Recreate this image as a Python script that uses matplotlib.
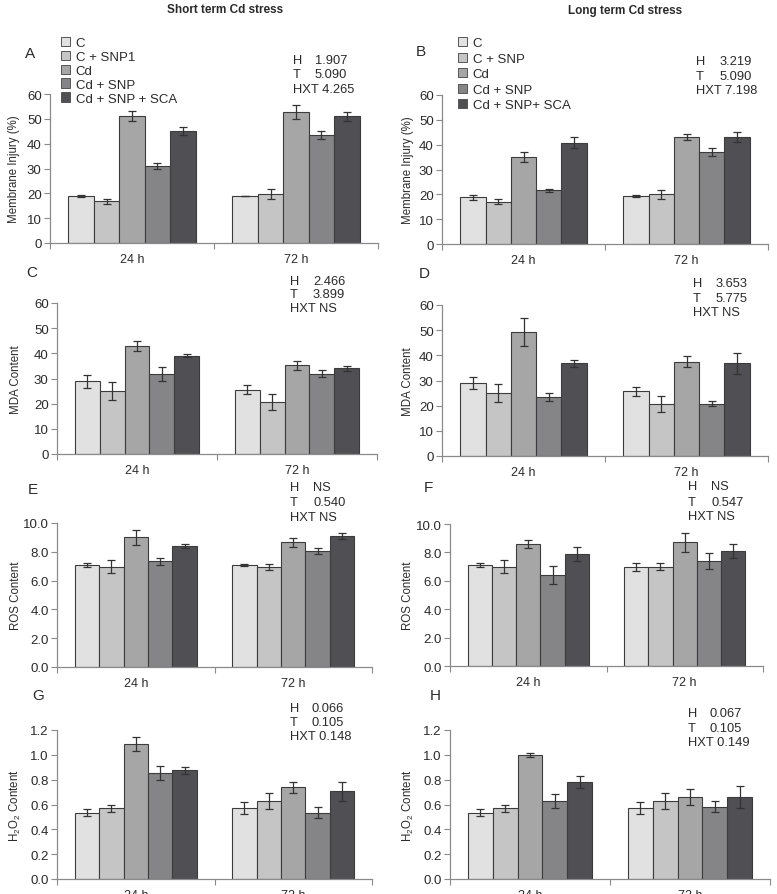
import matplotlib
matplotlib.use("Agg")
import matplotlib.pyplot as plt
import numpy as np
from matplotlib import font_manager
from matplotlib.patches import Patch

names = {f.name for f in font_manager.fontManager.ttflist}
FAM = 'Liberation Sans Narrow' if 'Liberation Sans Narrow' in names else 'Liberation Sans'
plt.rcParams['font.family'] = [FAM, 'DejaVu Sans']

# ---------------- data ----------------
times = ["24 h", "72 h"]
treatments_short = ["C", "C + SNP1", "Cd", "Cd + SNP", "Cd + SNP + SCA"]
treatments_long = ["C", "C + SNP", "Cd", "Cd + SNP", "Cd + SNP+ SCA"]

# rows: treatments, cols: [24 h, 72 h]
A_mean = [[19.0, 19.0], [16.8, 19.7], [51.2, 52.9], [31.0, 43.4], [45.0, 51.1]]
A_err = [[0.5, 0.1], [1.0, 1.9], [1.9, 2.8], [1.2, 1.5], [1.7, 1.8]]
B_mean = [[18.8, 19.3], [17.1, 20.0], [35.1, 43.1], [21.6, 36.9], [40.8, 43.1]]
B_err = [[0.9, 0.3], [1.0, 1.9], [2.0, 1.1], [0.7, 1.6], [2.3, 2.0]]
C_mean = [[28.9, 25.6], [25.1, 20.6], [43.0, 35.2], [31.9, 31.9], [39.1, 34.0]]
C_err = [[2.5, 1.7], [3.6, 3.1], [1.9, 1.7], [2.7, 1.5], [0.5, 1.1]]
D_mean = [[29.0, 25.7], [25.2, 20.7], [49.2, 37.4], [23.5, 20.7], [36.8, 36.8]]
D_err = [[2.5, 1.7], [3.6, 3.1], [5.6, 2.2], [1.6, 1.0], [1.5, 4.2]]
E_mean = [[7.1, 7.05], [6.95, 6.95], [9.0, 8.65], [7.35, 8.05], [8.4, 9.1]]
E_err = [[0.15, 0.07], [0.45, 0.18], [0.52, 0.3], [0.25, 0.2], [0.12, 0.22]]
F_mean = [[7.1, 7.0], [7.0, 7.0], [8.6, 8.7], [6.4, 7.4], [7.9, 8.1]]
F_err = [[0.15, 0.28], [0.45, 0.22], [0.28, 0.7], [0.62, 0.55], [0.48, 0.48]]
G_mean = [[0.535, 0.57], [0.57, 0.63], [1.09, 0.74], [0.855, 0.535], [0.875, 0.705]]
G_err = [[0.031, 0.05], [0.029, 0.065], [0.056, 0.045], [0.058, 0.046], [0.031, 0.073]]
H_mean = [[0.535, 0.57], [0.57, 0.627], [1.0, 0.66], [0.627, 0.583], [0.783, 0.66]]
H_err = [[0.031, 0.05], [0.029, 0.066], [0.018, 0.061], [0.055, 0.044], [0.049, 0.09]]

stats = {
    "A": ("1.907", "5.090", "4.265"),
    "B": ("3.219", "5.090", "7.198"),
    "C": ("2.466", "3.899", "NS"),
    "D": ("3.653", "5.775", "NS"),
    "E": ("NS", "0.540", "NS"),
    "F": ("NS", "0.547", "NS"),
    "G": ("0.066", "0.105", "0.148"),
    "H": ("0.067", "0.105", "0.149"),
}
ylabels = {
    "A": "Membrane Injury (%)", "B": "Membrane Injury (%)",
    "C": "MDA Content", "D": "MDA Content",
    "E": "ROS Content", "F": "ROS Content",
    "G": r"H$_\mathregular{2}$O$_\mathregular{2}$ Content",
    "H": r"H$_\mathregular{2}$O$_\mathregular{2}$ Content",
}
colors = ["#e1e1e1", "#c5c5c6", "#a6a6a7", "#858588", "#4f4f54"]

W, Hh = 777, 895
fig = plt.figure(figsize=(W / 100, Hh / 100), dpi=100)

# layout in pixels: left, right, y of zero, y of top
layout = {
    "A": (50, 378, 244, 95), "B": (442, 768, 245, 96),
    "C": (57, 377, 455, 304), "D": (442, 768, 457, 306),
    "E": (57, 372, 668, 524), "F": (450, 763, 667, 525),
    "G": (57, 372, 880, 731), "H": (450, 770, 880, 731),
}
yscale = {
    "A": (60, np.arange(0, 61, 10), "%d"), "B": (60, np.arange(0, 61, 10), "%d"),
    "C": (60, np.arange(0, 61, 10), "%d"), "D": (60, np.arange(0, 61, 10), "%d"),
    "E": (10, np.arange(0, 10.1, 2), "%.1f"), "F": (10, np.arange(0, 10.1, 2), "%.1f"),
    "G": (1.2, np.arange(0, 1.21, 0.2), "%.1f"), "H": (1.2, np.arange(0, 1.21, 0.2), "%.1f"),
}
data = {"A": (A_mean, A_err), "B": (B_mean, B_err), "C": (C_mean, C_err),
        "D": (D_mean, D_err), "E": (E_mean, E_err), "F": (F_mean, F_err),
        "G": (G_mean, G_err), "H": (H_mean, H_err)}
letter_pos = {"A": (30, 54), "B": (421, 52), "C": (32, 273), "D": (424, 274),
              "E": (33, 490), "F": (428, 488), "G": (38, 696), "H": (435, 696)}
stat_pos = {  # x0, x1, y rows
    "A": (293, 315, (61, 75, 90)), "B": (696, 720, (62, 77, 91)),
    "C": (290, 313, (282, 295, 309)), "D": (693, 716, (284, 299, 313)),
    "E": (290, 313, (488, 503, 518)), "F": (688, 711, (487, 503, 517)),
    "G": (290, 312, (709, 723, 737)), "H": (688, 710, (714, 729, 743)),
}
ylabel_x = {"A": 14, "B": 408, "C": 16, "D": 408, "E": 16, "F": 408, "G": 15, "H": 408}

def fx(px):
    return px / W

def fy(py):
    return 1 - py / Hh

axis_col = "#8a8a8a"
txt_col = "#2a2a2a"
bw = 0.155
x = np.arange(len(times))

for key, (l, r, y0, yt) in layout.items():
    ax = fig.add_axes([fx(l), fy(y0), fx(r) - fx(l), fy(yt) - fy(y0)])
    means, errs = data[key]
    n = len(means)
    for i in range(n):
        off = (i - (n - 1) / 2) * bw
        ax.bar(x + off, means[i], width=bw, color=colors[i], edgecolor="#3c3c3c",
               linewidth=0.8, zorder=2)
        ax.errorbar(x + off, means[i], yerr=errs[i], fmt="none", ecolor="#333333",
                    elinewidth=0.9, capsize=3.2, capthick=0.9, zorder=3)
    ymax, yt_vals, fmt = yscale[key]
    ax.set_ylim(0, ymax)
    ax.set_xlim(-0.5, 1.5)
    ax.set_yticks(yt_vals)
    ax.set_yticklabels([fmt % v for v in yt_vals])
    ax.set_xticks(x)
    ax.set_xticklabels(times)
    ax.set_xticks([-0.5, 0.5, 1.5], minor=True)
    ax.tick_params(axis="x", which="major", length=0, pad=7, labelsize=9, labelcolor=txt_col)
    ax.tick_params(axis="x", which="minor", length=4, width=0.8, color=axis_col, direction="out")
    ax.tick_params(axis="y", length=4, width=0.8, color=axis_col, labelsize=9.5,
                   labelcolor=txt_col, pad=2)
    for s in ("top", "right"):
        ax.spines[s].set_visible(False)
    for s in ("left", "bottom"):
        ax.spines[s].set_color(axis_col)
        ax.spines[s].set_linewidth(0.9)
    ax.patch.set_alpha(0)

    # y label
    fig.text(fx(ylabel_x[key]), fy((y0 + yt) / 2), ylabels[key], rotation=90,
             ha="center", va="center", fontsize=8.3, color=txt_col)
    # panel letter
    lx, ly = letter_pos[key]
    fig.text(fx(lx), fy(ly), key, ha="center", va="center", fontsize=11, color=txt_col)
    # stats
    x0, x1, rows = stat_pos[key]
    hv, tv, hxt = stats[key]
    fig.text(fx(x0), fy(rows[0]), "H", ha="left", va="center", fontsize=9.3, color=txt_col)
    fig.text(fx(x1), fy(rows[0]), hv, ha="left", va="center", fontsize=9.3, color=txt_col)
    fig.text(fx(x0), fy(rows[1]), "T", ha="left", va="center", fontsize=9.3, color=txt_col)
    fig.text(fx(x1), fy(rows[1]), tv, ha="left", va="center", fontsize=9.3, color=txt_col)
    fig.text(fx(x0), fy(rows[2]), "HXT " + hxt, ha="left", va="center", fontsize=9.3,
             color=txt_col)

    if key in ("A", "B"):
        labels = treatments_short if key == "A" else treatments_long
        handles = [Patch(facecolor=c, edgecolor="#555555", linewidth=0.7) for c in colors]
        lx0 = 61 if key == "A" else 458
        leg = fig.legend(handles, labels, loc="upper left",
                         bbox_to_anchor=(fx(lx0), fy(38)),
                         frameon=False, fontsize=9.5, handlelength=0.7, handleheight=0.7,
                         handletextpad=0.4, labelspacing=0.12 if key == "A" else 0.25,
                         borderpad=0, borderaxespad=0)
        for t in leg.get_texts():
            t.set_color(txt_col)

fig.text(fx(225), fy(10), "Short term Cd stress", ha="center", va="center",
         fontsize=8.5, fontweight="bold", color=txt_col)
fig.text(fx(625), fy(11), "Long term Cd stress", ha="center", va="center",
         fontsize=8.5, fontweight="bold", color=txt_col)

fig.savefig("out.png", dpi=100)
